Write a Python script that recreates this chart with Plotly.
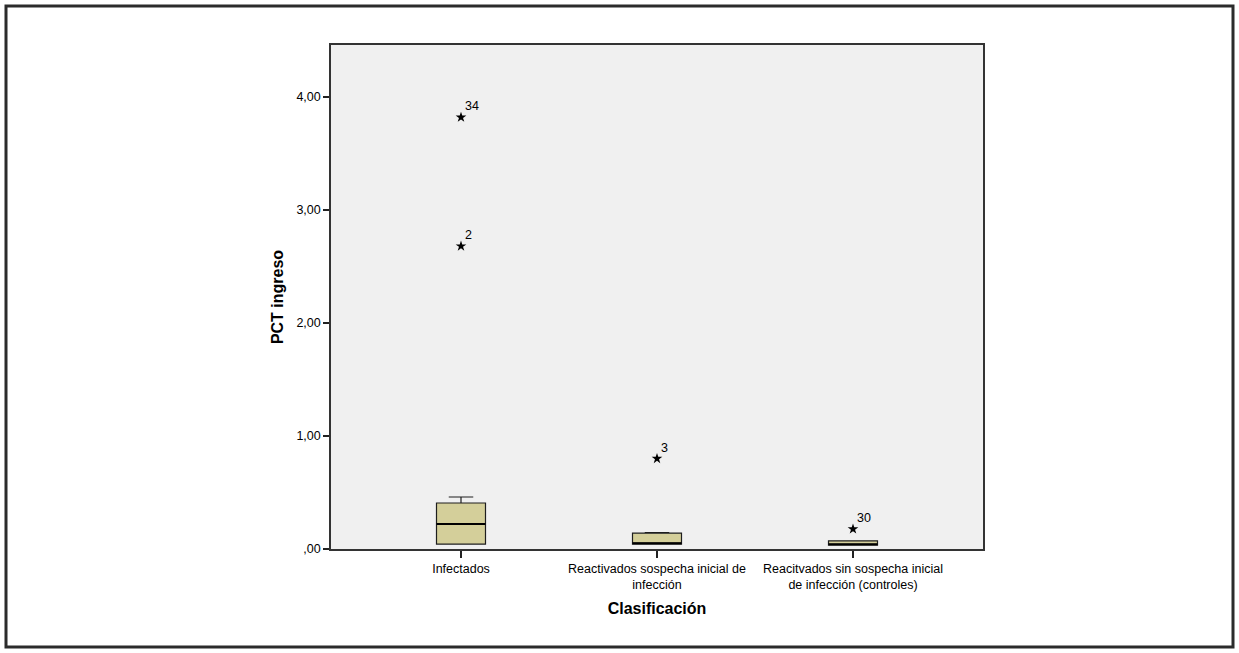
import plotly.graph_objects as go

# ---- data ----
categories = ["Infectados",
              "Reactivados sospecha inicial de infección",
              "Reacitvados sin sospecha inicial de infección (controles)"]
tick_labels = ["Infectados",
               "Reactivados sospecha inicial de<br>infección",
               "Reacitvados sin sospecha inicial<br>de infección (controles)"]
q1 = [0.044, 0.044, 0.033]
median = [0.221, 0.050, 0.042]
q3 = [0.407, 0.140, 0.072]
lowerfence = [0.044, 0.044, 0.033]
upperfence = [0.460, 0.145, 0.072]

outlier_group = [0, 0, 1, 2]
outlier_values = [3.82, 2.68, 0.80, 0.177]
outlier_labels = ["34", "2", "3", "30"]

y_ticks = [0, 1, 2, 3, 4]
y_tick_labels = [",00", "1,00", "2,00", "3,00", "4,00"]

# ---- layout geometry (pixels) ----
W, H = 1239, 653
L, R, T, B = 331, 983, 45, 549
box_w = 0.25
fill = "#D4CF9A"
edge = "#1e1e1e"

fig = go.Figure()
xs = list(range(len(categories)))
fig.add_trace(go.Box(
    x=xs, q1=q1, median=median, q3=q3,
    lowerfence=lowerfence, upperfence=upperfence,
    width=box_w, whiskerwidth=0.5,
    fillcolor=fill, line=dict(color=edge, width=1.2),
    boxpoints=False, showlegend=False, hoverinfo="skip",
))

# thicker median lines
for i, m in enumerate(median):
    fig.add_shape(type="line", xref="x", yref="y",
                  x0=xs[i] - box_w / 2, x1=xs[i] + box_w / 2, y0=m, y1=m,
                  line=dict(color="black", width=2))

ox = [xs[g] for g in outlier_group]
fig.add_trace(go.Scatter(
    x=ox, y=outlier_values, mode="markers",
    marker=dict(symbol="star", size=8, color="black", line=dict(width=0)),
    showlegend=False, hoverinfo="skip",
))
for x, y, t in zip(ox, outlier_values, outlier_labels):
    fig.add_annotation(x=x, y=y, text=t, showarrow=False, xref="x", yref="y",
                       xanchor="left", yanchor="bottom", xshift=2, yshift=2,
                       font=dict(size=12.5, color="black", family="Liberation Sans"))

x_lo = (L - 461) / 196
x_hi = (R - 461) / 196
y_top = (B - T) / 113

pw, ph = R - L, B - T
fig.add_shape(type="rect", xref="paper", yref="paper",
              x0=(6 - L) / pw, x1=(1233 - L) / pw,
              y0=(B - 647) / ph, y1=(B - 6) / ph,
              line=dict(color="#2b2b2b", width=3), layer="below")

fig.update_layout(
    width=W, height=H,
    margin=dict(l=L, r=W - R, t=T, b=H - B, pad=0),
    paper_bgcolor="white", plot_bgcolor="#F0F0F0",
    font=dict(family="Liberation Sans", size=12.5, color="black"),
    xaxis=dict(range=[x_lo, x_hi], tickvals=xs, ticktext=tick_labels,
               showgrid=False, zeroline=False, showline=True, mirror=True,
               linecolor="#333", linewidth=1.5, ticks="outside", ticklen=7,
               tickcolor="#222", tickwidth=1.5,
               tickfont=dict(size=12.5),
               title=dict(text="<b>Clasificación</b>", font=dict(size=16), standoff=12)),
    yaxis=dict(range=[0, y_top], tickvals=y_ticks, ticktext=y_tick_labels,
               showgrid=False, zeroline=False, showline=True, mirror=True,
               linecolor="#333", linewidth=1.5, ticks="outside", ticklen=6,
               tickcolor="#222", tickwidth=1.5,
               tickfont=dict(size=12.5),
               title=dict(text="<b>PCT ingreso</b>", font=dict(size=16), standoff=9)),
)

fig.write_html("out.html", config={"displayModeBar": False},
               post_script="document.body.style.margin='0';document.body.style.overflow='hidden';")
